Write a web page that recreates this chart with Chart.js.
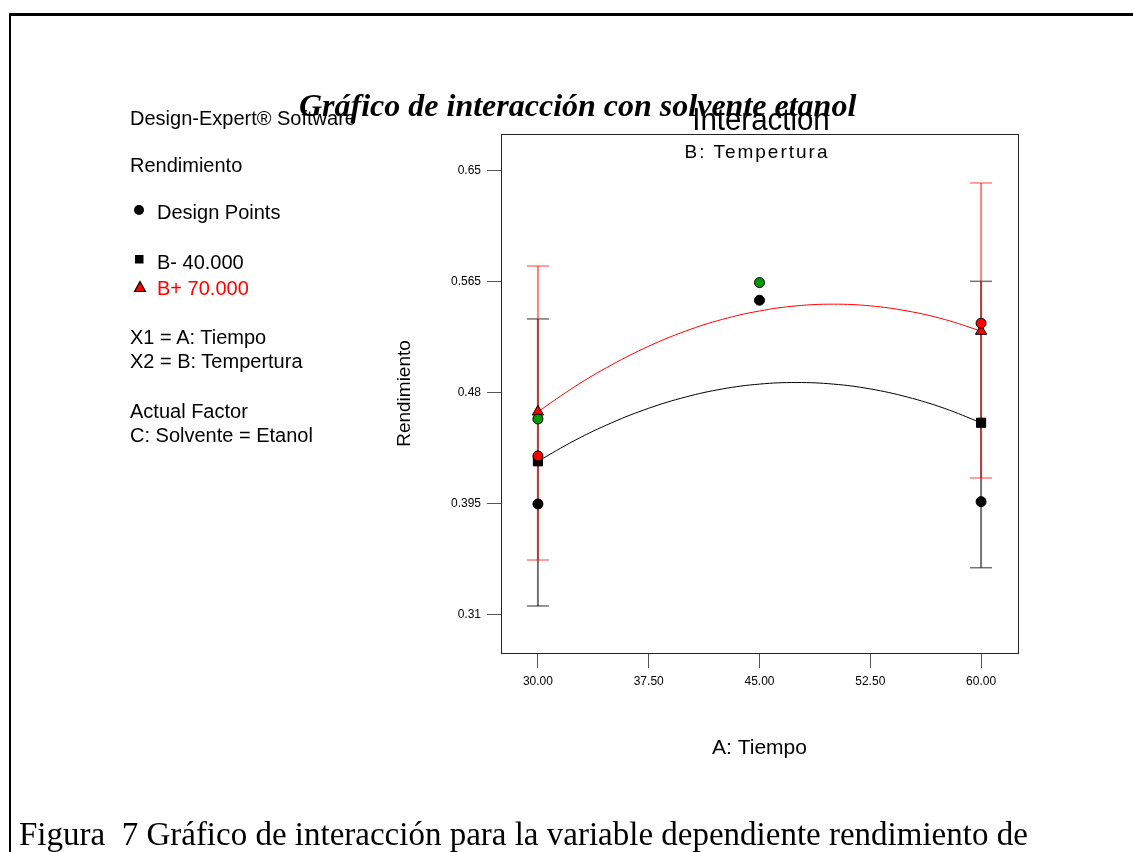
<!DOCTYPE html>
<html>
<head>
<meta charset="utf-8">
<script src="https://cdn.jsdelivr.net/npm/chart.js@4/dist/chart.umd.min.js"></script>
<style>
  html, body { margin: 0; padding: 0; background: #fff; }
  #page { position: relative; width: 1133px; height: 852px; overflow: hidden; background: #fff; }
  #frame { position: absolute; left: 9px; top: 13px; width: 1130px; height: 845px;
           border-top: 3px solid #000; border-left: 2px solid #000; box-sizing: border-box; }
  #plot { position: absolute; left: 0; top: 0; }
  .t { position: absolute; white-space: nowrap; color: #000; line-height: 1;
       font-family: "Liberation Sans", Arial, sans-serif; }
  .side { font-size: 20px; left: 130px; }
  .mk { position: absolute; }
  #mainTitle { font-family: "Liberation Serif", "Times New Roman", serif; font-weight: bold;
               font-style: italic; font-size: 32px; left: 299px; top: 89px; z-index: 5; }
  #interTitle { font-size: 31px; left: 761px; top: 104px; transform: translateX(-50%) scaleX(0.95); z-index: 4; }
  #interSub { font-size: 19px; left: 757px; top: 142px; transform: translateX(-50%); letter-spacing: 2px; z-index: 4; }
  #caption { font-family: "Liberation Serif", "Times New Roman", serif; font-size: 33px;
             left: 19px; top: 818px; }
</style>
</head>
<body>
<div id="page">
  <div id="frame"></div>
  <canvas id="plot" width="1133" height="852"></canvas>

  <div class="t side" style="top:108px">Design-Expert® Software</div>
  <div class="t side" style="top:155px">Rendimiento</div>
  <svg class="mk" style="left:133px;top:204px" width="12" height="12"><circle cx="6" cy="6" r="5" fill="#000"/></svg>
  <div class="t side" style="left:157px;top:202px">Design Points</div>
  <svg class="mk" style="left:134px;top:254px" width="10" height="10"><rect x="1" y="1" width="8.5" height="8.5" fill="#000"/></svg>
  <div class="t side" style="left:157px;top:252px">B- 40.000</div>
  <svg class="mk" style="left:133px;top:280px" width="14" height="13"><polygon points="7,1.5 12.5,11.5 1.5,11.5" fill="#f00" stroke="#000" stroke-width="1.2"/></svg>
  <div class="t side" style="left:157px;top:278px;color:#f00">B+ 70.000</div>
  <div class="t side" style="top:327px">X1 = A: Tiempo</div>
  <div class="t side" style="top:351px">X2 = B: Tempertura</div>
  <div class="t side" style="top:401px">Actual Factor</div>
  <div class="t side" style="top:425px">C: Solvente = Etanol</div>

  <div class="t" id="interTitle">Interaction</div>
  <div class="t" id="interSub">B: Tempertura</div>
  <div class="t" id="mainTitle">Gráfico de interacción con solvente etanol</div>
  <div class="t" id="caption">Figura&nbsp; 7 Gráfico de interacción para la variable dependiente rendimiento de</div>
</div>

<script>
// Axis ticks
const xTickValues = [30, 37.5, 45, 52.5, 60];
const xTickLabels = ['30.00', '37.50', '45.00', '52.50', '60.00'];
const yTickValues = [0.31, 0.395, 0.48, 0.565, 0.65];
const yTickLabels = ['0.31', '0.395', '0.48', '0.565', '0.65'];

// Predicted interaction curves over A: Tiempo
const curveTiempo = [30, 32.5, 35, 37.5, 40, 42.5, 45, 47.5, 50, 52.5, 55, 57.5, 60];
const curveBLow  = [0.4277, 0.4437, 0.4572, 0.4683, 0.4769, 0.4831, 0.4868, 0.4880, 0.4868, 0.4831, 0.4769, 0.4683, 0.4572];
const curveBHigh = [0.4656, 0.4849, 0.5016, 0.5158, 0.5274, 0.5364, 0.5428, 0.5467, 0.5480, 0.5467, 0.5428, 0.5364, 0.5274];

// Factor-level means with LSD bars
const levelTiempo = [30, 60];
const meanBLow  = [0.4277, 0.4572];
const meanBHigh = [0.4656, 0.5274];
const lsdBLowLower  = [0.3169, 0.3462];
const lsdBLowUpper  = [0.5367, 0.5655];
const lsdBHighLower = [0.3521, 0.4149];
const lsdBHighUpper = [0.5772, 0.6408];

// Design points
const designBlackX = [30, 45, 60];
const designBlackY = [0.395, 0.551, 0.3968];
const designGreenX = [30, 45];
const designGreenY = [0.4601, 0.5645];
const designRedX   = [30, 60];
const designRedY   = [0.4318, 0.5334];

const X_MIN = 27.5, X_MAX = 62.5;
const Y_MIN = 0.2809, Y_MAX = 0.6783;

const pts = (xs, ys) => xs.map((x, i) => ({ x: x, y: ys[i] }));

function lsdBar(i, lower, upper, color, order) {
  return {
    data: [{ x: levelTiempo[i], y: lower[i] }, { x: levelTiempo[i], y: upper[i] }],
    showLine: true,
    borderColor: color,
    borderWidth: 2,
    pointStyle: 'line',
    pointRadius: 11,
    pointBorderWidth: 1.5,
    pointBorderColor: color,
    pointBackgroundColor: color,
    order: order
  };
}

const datasets = [
  // design points on top
  { data: pts(designGreenX, designGreenY), pointStyle: 'circle', pointRadius: 5,
    pointBackgroundColor: '#009a00', pointBorderColor: '#000', pointBorderWidth: 1, showLine: false, order: 0 },
  { data: pts(designRedX, designRedY), pointStyle: 'circle', pointRadius: 5,
    pointBackgroundColor: '#ff0000', pointBorderColor: '#000', pointBorderWidth: 1, showLine: false, order: 0 },
  { data: pts(designBlackX, designBlackY), pointStyle: 'circle', pointRadius: 5,
    pointBackgroundColor: '#000', pointBorderColor: '#000', pointBorderWidth: 1, showLine: false, order: 0 },
  // level means
  { data: pts(levelTiempo, meanBHigh), pointStyle: 'triangle', pointRadius: 6.5,
    pointBackgroundColor: '#ff0000', pointBorderColor: '#000', pointBorderWidth: 1, showLine: false, order: 1 },
  { data: pts(levelTiempo, meanBLow), pointStyle: 'rect', pointRadius: 6.5,
    pointBackgroundColor: '#000', pointBorderColor: '#000', pointBorderWidth: 1, showLine: false, order: 1 },
  // curves
  { data: pts(curveTiempo, curveBHigh), showLine: true, borderColor: '#ff0000', borderWidth: 1,
    pointRadius: 0, tension: 0.4, order: 2 },
  { data: pts(curveTiempo, curveBLow), showLine: true, borderColor: '#000', borderWidth: 1,
    pointRadius: 0, tension: 0.4, order: 2 },
  // LSD bars
  lsdBar(0, lsdBHighLower, lsdBHighUpper, 'rgba(255,0,0,0.5)', 3),
  lsdBar(1, lsdBHighLower, lsdBHighUpper, 'rgba(255,0,0,0.5)', 3),
  lsdBar(0, lsdBLowLower, lsdBLowUpper, 'rgba(0,0,0,0.55)', 4),
  lsdBar(1, lsdBLowLower, lsdBLowUpper, 'rgba(0,0,0,0.55)', 4)
];

const plotBox = {
  id: 'plotBox',
  beforeDatasetsDraw(chart) {
    const a = chart.chartArea, ctx = chart.ctx;
    ctx.save();
    ctx.strokeStyle = '#222';
    ctx.lineWidth = 1;
    ctx.strokeRect(Math.round(a.left) + 0.5, Math.round(a.top) + 0.5,
                   Math.round(a.right - a.left), Math.round(a.bottom - a.top));
    ctx.restore();
  }
};

const tickFont = { family: '"Liberation Sans", Arial, sans-serif', size: 12 };
const titleFontY = { family: '"Liberation Sans", Arial, sans-serif', size: 19 };
const titleFontX = { family: '"Liberation Sans", Arial, sans-serif', size: 21 };

new Chart(document.getElementById('plot'), {
  type: 'scatter',
  data: { datasets: datasets },
  plugins: [plotBox],
  options: {
    responsive: false,
    devicePixelRatio: 1,
    animation: false,
    events: [],
    layout: { padding: { left: 389, top: 134, right: 115, bottom: 91 } },
    plugins: { legend: { display: false }, title: { display: false }, tooltip: { enabled: false } },
    scales: {
      x: {
        type: 'linear', min: X_MIN, max: X_MAX,
        afterBuildTicks: s => { s.ticks = xTickValues.map(v => ({ value: v })); },
        afterFit: s => { s.height = 108; },
        ticks: { callback: (v, i) => xTickLabels[i], color: '#000', font: tickFont, padding: 6, maxRotation: 0 },
        grid: { drawOnChartArea: false, drawTicks: true, tickLength: 15, color: '#555' },
        border: { display: false },
        title: { display: true, text: 'A: Tiempo', color: '#000', font: titleFontX, padding: { top: 0, bottom: 0 } }
      },
      y: {
        type: 'linear', min: Y_MIN, max: Y_MAX,
        afterBuildTicks: s => { s.ticks = yTickValues.map(v => ({ value: v })); },
        afterFit: s => { s.width = 112; },
        ticks: { callback: (v, i) => yTickLabels[i], color: '#000', font: tickFont, padding: 6 },
        grid: { drawOnChartArea: false, drawTicks: true, tickLength: 14, color: '#555' },
        border: { display: false },
        title: { display: true, text: 'Rendimiento', color: '#000', font: titleFontY, padding: { top: 4, bottom: 0 } }
      }
    }
  }
});
</script>
</body>
</html>
